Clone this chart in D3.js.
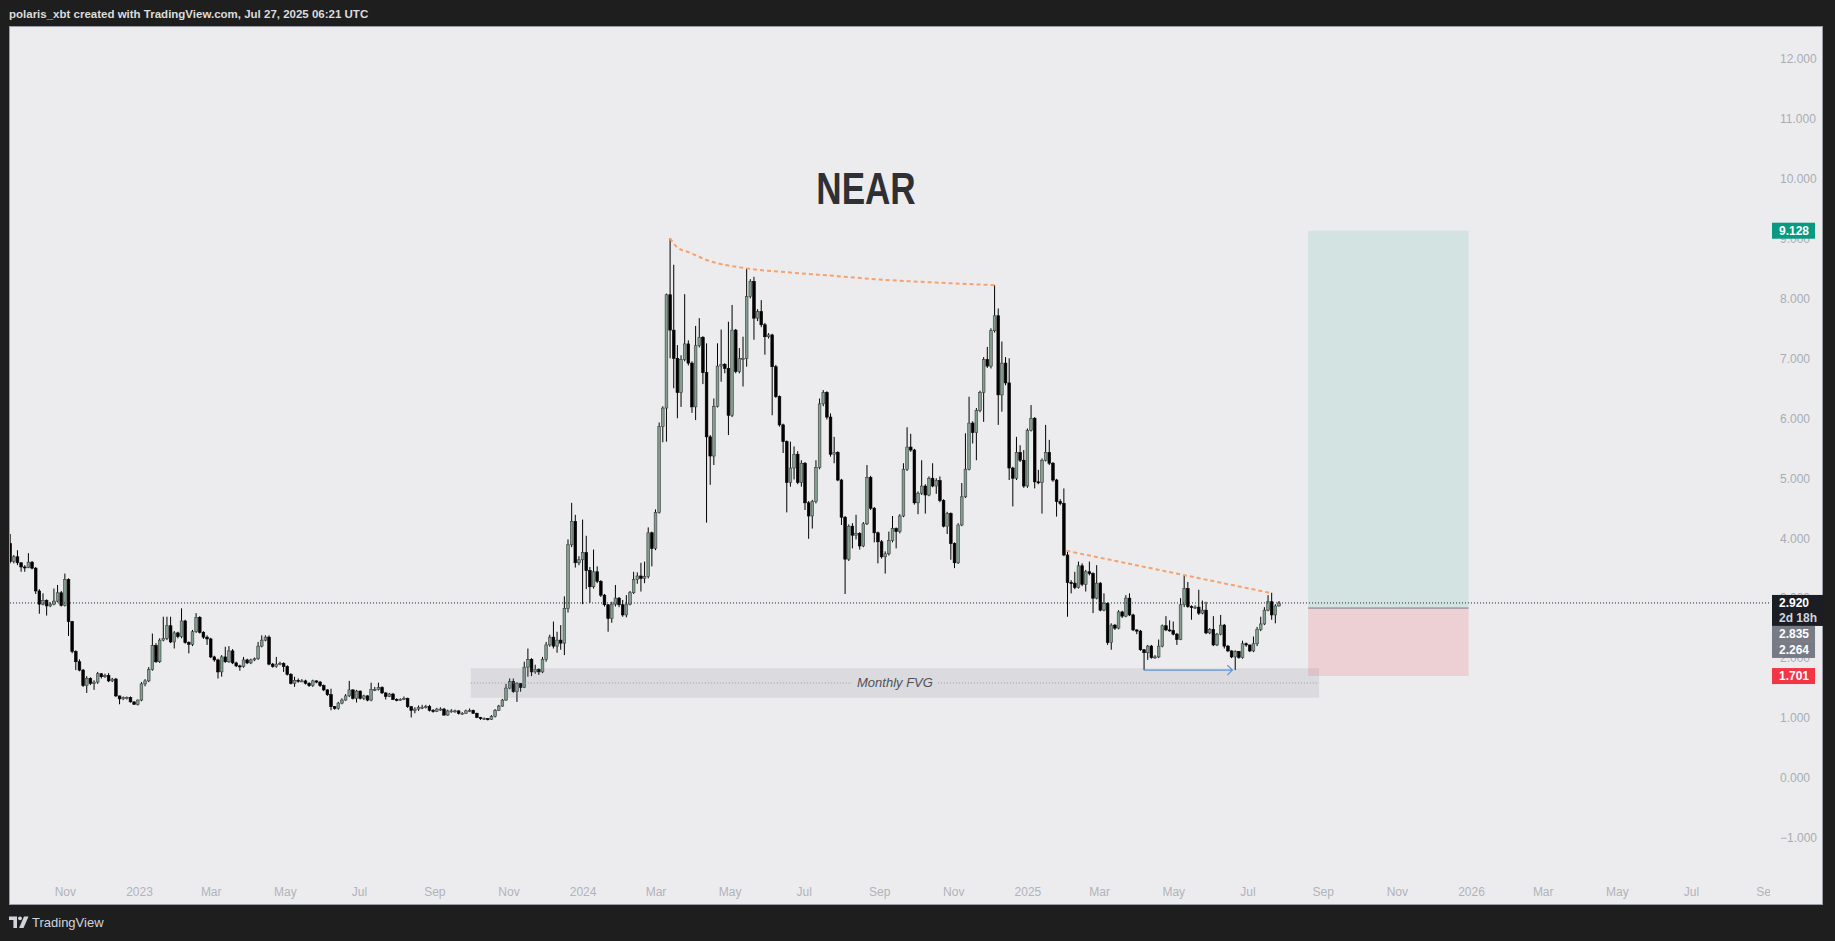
<!DOCTYPE html>
<html>
<head>
<meta charset="UTF-8">
<style>
  html, body { margin: 0; padding: 0; background: #1e1e1e; overflow: hidden; }
  svg { display: block; }
</style>
</head>
<body>
<svg></svg>
<script src="https://d3js.org/d3.v7.min.js"></script>
<script>

let width = 1835, height = 941;

// NEAR 3D candles, last one opens Jul 27 2025 (open = previous close)
let lastCandle = "2025-07-27";
let firstOpen = 3.91;

let closes = [
  3.61,3.69,3.59,3.52,3.51,3.60,3.50,3.12,2.90,2.96,
  2.87,2.90,2.95,3.09,2.88,3.31,2.61,2.11,1.94,1.80,
  1.54,1.66,1.58,1.60,1.74,1.69,1.71,1.62,1.65,1.37,
  1.32,1.34,1.34,1.27,1.23,1.30,1.57,1.62,1.81,2.21,
  1.94,2.30,2.33,2.54,2.27,2.42,2.36,2.62,2.26,2.23,
  2.44,2.68,2.43,2.35,2.32,2.02,1.97,1.77,2.02,1.94,
  2.12,1.92,1.87,1.86,1.97,1.92,1.97,1.99,2.20,2.30,
  2.35,1.90,1.86,1.90,1.91,1.86,1.73,1.58,1.63,1.62,
  1.62,1.58,1.54,1.62,1.60,1.54,1.47,1.39,1.19,1.16,
  1.25,1.30,1.37,1.47,1.33,1.45,1.33,1.37,1.30,1.48,
  1.48,1.51,1.42,1.36,1.40,1.31,1.30,1.31,1.33,1.19,
  1.13,1.15,1.18,1.18,1.19,1.13,1.11,1.15,1.15,1.05,
  1.12,1.12,1.12,1.08,1.08,1.12,1.13,1.08,1.01,0.99,
  0.99,0.98,1.03,1.13,1.20,1.30,1.50,1.61,1.44,1.58,
  1.51,1.85,1.98,1.77,1.81,1.77,1.98,2.22,2.35,2.20,
  2.30,2.25,2.83,3.89,4.28,3.59,3.64,3.76,3.46,3.19,
  3.44,3.28,3.05,2.89,2.66,2.90,3.00,2.89,2.72,2.90,
  3.09,3.31,3.37,3.33,3.36,4.09,3.83,4.43,5.86,6.17,
  8.06,7.47,7.00,6.43,6.98,7.24,6.92,6.19,7.21,7.35,
  6.76,5.69,5.37,6.20,6.87,6.90,6.83,6.05,7.47,6.78,
  7.00,7.00,8.03,8.28,7.67,7.78,7.56,7.36,7.39,6.86,
  6.36,5.89,5.61,4.93,5.17,5.40,4.93,5.25,4.59,4.37,
  4.61,5.18,6.24,6.43,6.02,5.40,5.43,4.97,4.35,3.65,
  4.20,4.05,4.08,3.87,4.24,5.01,4.50,4.09,3.94,3.69,
  3.74,3.96,4.16,4.11,4.37,5.15,5.52,5.47,4.59,4.75,
  4.87,4.72,5.00,4.87,4.96,4.63,4.20,4.41,3.91,3.59,
  4.22,4.69,5.15,5.92,5.76,6.13,6.43,6.98,6.87,7.46,
  7.71,6.39,6.92,6.59,5.17,5.00,5.43,5.30,4.87,5.80,
  6.00,4.94,4.93,5.30,5.43,5.25,4.97,4.61,4.58,3.72,
  3.26,3.25,3.18,3.54,3.23,3.44,3.41,3.00,3.25,2.80,
  2.91,2.26,2.55,2.50,2.77,2.70,3.00,2.72,2.47,2.45,
  2.14,2.09,2.20,2.01,2.02,2.20,2.54,2.47,2.46,2.40,
  2.31,2.89,3.16,2.86,2.85,2.85,2.75,2.80,2.42,2.48,
  2.22,2.40,2.55,2.20,2.12,2.02,2.11,2.01,2.24,2.22,
  2.12,2.24,2.48,2.57,2.80,2.94,2.72,2.87,2.92
];

let highs = [
  4.07,3.72,3.80,3.60,3.55,3.75,3.62,3.52,3.15,3.08,
  2.98,2.93,3.16,3.22,3.12,3.41,3.33,2.62,2.13,1.98,
  1.82,1.70,1.68,1.63,1.77,1.75,1.74,1.75,1.67,1.67,
  1.37,1.36,1.36,1.36,1.28,1.31,1.60,1.65,1.85,2.41,
  2.25,2.33,2.69,2.69,2.69,2.45,2.44,2.83,2.64,2.28,
  2.47,2.75,2.70,2.45,2.38,2.34,2.04,1.99,2.05,2.19,
  2.20,2.15,1.94,1.89,2.02,1.99,1.99,2.01,2.27,2.38,
  2.38,2.38,1.92,2.02,1.94,1.93,1.88,1.75,1.69,1.66,
  1.65,1.64,1.60,1.64,1.63,1.62,1.56,1.48,1.49,1.20,
  1.27,1.33,1.40,1.62,1.48,1.47,1.46,1.39,1.38,1.59,
  1.52,1.59,1.53,1.43,1.42,1.42,1.33,1.33,1.36,1.34,
  1.20,1.18,1.21,1.22,1.22,1.22,1.15,1.17,1.18,1.17,
  1.14,1.15,1.14,1.13,1.10,1.14,1.16,1.14,1.09,1.02,
  1.01,1.00,1.05,1.15,1.22,1.32,1.57,1.66,1.66,1.60,
  1.58,1.94,2.16,2.00,1.89,1.83,2.02,2.27,2.39,2.61,
  2.44,2.55,3.03,3.98,4.59,4.39,3.70,4.31,4.04,3.52,
  3.81,3.53,3.30,3.07,2.90,2.94,3.22,3.02,2.97,3.05,
  3.12,3.44,3.43,3.59,3.61,4.18,4.11,4.48,5.93,6.20,
  8.08,9.00,8.56,7.22,7.05,8.07,7.30,6.95,7.54,7.67,
  7.37,7.25,5.72,6.33,7.25,7.48,6.92,7.61,7.89,7.49,
  7.17,7.36,8.50,8.32,8.36,7.82,7.97,7.59,7.42,7.41,
  6.89,6.38,5.91,5.63,5.61,5.53,5.45,5.30,5.27,4.62,
  4.64,5.30,6.33,6.47,6.45,6.08,5.69,5.45,4.99,4.37,
  4.23,4.25,4.39,4.10,4.27,5.22,5.04,4.52,4.11,3.97,
  3.78,4.11,4.37,4.18,4.40,5.25,5.85,5.74,5.49,4.78,
  5.30,4.90,5.03,5.25,5.00,5.03,4.65,4.44,4.43,3.93,
  4.25,4.92,5.75,6.36,5.95,6.17,6.46,7.02,7.19,7.50,
  8.22,7.83,7.28,7.02,7.00,5.19,5.69,5.55,5.47,5.83,
  6.22,6.02,5.14,5.33,5.89,5.64,5.27,4.99,4.65,4.83,
  3.80,3.30,3.44,3.61,3.58,3.47,3.61,3.43,3.55,3.27,
  3.08,2.93,2.58,2.57,2.80,2.79,3.05,3.08,2.74,2.48,
  2.47,2.15,2.22,2.22,2.05,2.31,2.56,2.70,2.63,2.61,
  2.42,3.00,3.39,3.27,2.88,2.88,3.14,2.96,2.94,2.50,
  2.70,2.42,2.72,2.57,2.22,2.13,2.13,2.12,2.29,2.26,
  2.22,2.36,2.52,2.69,2.85,3.05,3.09,2.90,2.95
];

let lows = [
  3.58,3.58,3.55,3.44,3.44,3.50,3.48,3.07,2.74,2.88,
  2.71,2.85,2.88,2.93,2.86,2.86,2.37,2.08,1.80,1.78,
  1.52,1.42,1.55,1.47,1.57,1.66,1.67,1.60,1.60,1.35,
  1.23,1.30,1.31,1.26,1.22,1.21,1.28,1.53,1.60,1.79,
  1.92,1.92,2.28,2.30,2.25,2.16,2.33,2.33,2.24,2.08,
  2.20,2.42,2.41,2.32,2.22,2.00,1.94,1.66,1.69,1.92,
  1.92,1.90,1.85,1.79,1.84,1.90,1.90,1.95,1.97,2.18,
  2.28,1.88,1.84,1.84,1.88,1.77,1.71,1.56,1.52,1.59,
  1.60,1.56,1.52,1.52,1.58,1.52,1.45,1.37,1.13,1.14,
  1.14,1.23,1.29,1.35,1.31,1.26,1.31,1.30,1.28,1.28,
  1.45,1.46,1.40,1.31,1.35,1.30,1.28,1.29,1.30,1.17,
  1.01,1.08,1.12,1.15,1.16,1.11,1.09,1.10,1.12,1.04,
  1.04,1.09,1.09,1.06,1.06,1.07,1.10,1.07,1.00,0.97,
  0.97,0.96,0.97,1.01,1.12,1.19,1.29,1.48,1.42,1.27,
  1.44,1.50,1.69,1.70,1.74,1.72,1.75,1.94,2.19,2.16,
  2.09,2.14,2.05,2.76,3.85,3.51,3.55,2.90,3.15,2.92,
  3.16,3.25,3.02,2.86,2.44,2.59,2.86,2.85,2.69,2.68,
  2.88,3.07,3.24,3.11,3.25,3.33,3.53,3.80,4.41,5.60,
  5.61,7.00,6.50,6.00,6.19,6.95,6.88,6.09,5.97,7.18,
  6.57,4.26,4.89,5.22,6.18,6.61,6.75,5.72,6.02,6.75,
  6.75,6.53,6.86,8.00,7.31,7.62,7.52,7.06,7.33,6.05,
  6.34,5.86,5.42,4.43,4.86,4.98,4.90,4.86,4.47,3.99,
  4.16,4.58,5.15,6.20,5.98,5.36,5.25,4.95,4.22,3.07,
  3.62,3.83,3.98,3.81,3.85,4.22,4.47,3.93,3.58,3.66,
  3.41,3.71,3.93,3.83,4.08,4.35,5.12,5.44,4.56,4.40,
  4.72,4.41,4.70,4.85,4.74,4.60,4.18,4.07,3.64,3.50,
  3.57,4.20,4.67,5.13,5.58,5.30,6.10,5.94,6.84,6.83,
  7.43,5.89,6.11,6.55,4.97,4.53,4.97,5.27,4.84,4.84,
  5.78,4.83,4.90,4.41,5.28,5.22,4.94,4.36,4.55,3.70,
  2.69,3.08,3.15,3.16,3.20,3.11,3.38,2.75,2.98,2.78,
  2.78,2.22,2.14,2.47,2.48,2.67,2.68,2.70,2.45,2.40,
  2.12,1.80,1.97,1.99,1.99,2.00,2.18,2.45,2.44,2.38,
  2.22,2.30,2.85,2.84,2.64,2.82,2.72,2.73,2.40,2.40,
  2.20,2.20,2.38,2.16,2.10,2.00,1.80,1.99,1.99,2.19,
  2.10,2.10,2.20,2.45,2.55,2.78,2.64,2.58,2.86
];

let priceTicks = [12, 11, 10, 9, 8, 7, 6, 5, 4, 3, 2, 1, 0, -1];

let timeTickDates = ["2022-11-01","2023-01-01","2023-03-01","2023-05-01","2023-07-01","2023-09-01",
  "2023-11-01","2024-01-01","2024-03-01","2024-05-01","2024-07-01","2024-09-01",
  "2024-11-01","2025-01-01","2025-03-01","2025-05-01","2025-07-01","2025-09-01",
  "2025-11-01","2026-01-01","2026-03-01","2026-05-01","2026-07-01","2026-09-01"];
let timeTickLabels = ["Nov","2023","Mar","May","Jul","Sep","Nov","2024","Mar","May","Jul","Sep",
  "Nov","2025","Mar","May","Jul","Sep","Nov","2026","Mar","May","Jul","Sep"];

// drawings, in candle index / price
let arcIdx   = [181, 182.8, 186.5, 191, 202, 214, 227, 237, 255, 270];
let arcPrice = [9.00, 8.86, 8.76, 8.64, 8.50, 8.43, 8.37, 8.32, 8.26, 8.22];
let lowerIdx   = [289.7, 345.4];
let lowerPrice = [3.79, 3.09];
let arrowIdx   = [311, 335.2];
let arrowPrice = 1.80;

let fvgDates  = ["2023-10-01", "2025-08-29"];
let fvgPrices = [1.83, 1.34];

let positionDates = ["2025-08-20", "2025-12-30"];
let targetPrice = 9.128, entryPrice = 2.835, stopPrice = 1.701;
let lastPrice = 2.920;

let labelPrices = [9.128, 2.920, 2.835, 2.264, 1.701];
let labelFills  = ["#089981", "#1a1d24", "#787b86", "#787b86", "#f23645"];
let labelSub    = ["", "2d 18h", "", "", ""];

let svg = d3.select("svg")
  .attr("width", width).attr("height", height)
  .attr("viewBox", "0 0 " + width + " " + height)
  .style("font-family", "'Liberation Sans', Arial, sans-serif");

let x = d3.scaleUtc()
  .domain([new Date("2023-01-01"), new Date("2026-01-01")])
  .range([139, 1471]);
let y = d3.scaleLinear().domain([12, -1]).range([58.5, 838]);

let dayMs = 86400000;
let lastTime = Date.parse(lastCandle);
let n = closes.length;
let idxTime = i => new Date(lastTime - (n - 1 - i) * 3 * dayMs);

let candles = closes.map((c, i) => ({
  t: idxTime(i), o: i ? closes[i - 1] : firstOpen, h: highs[i], l: lows[i], c: c
}));

// frame
svg.append("rect").attr("width", width).attr("height", height).attr("fill", "#1e1e1e");
svg.append("rect")
  .attr("x", 9.5).attr("y", 26.5).attr("width", 1813).attr("height", 878)
  .attr("fill", "#ececee").attr("stroke", "#9b9ea6");

let defs = svg.append("defs");
defs.append("clipPath").attr("id", "plot")
  .append("rect").attr("x", 10).attr("y", 27).attr("width", 1760).attr("height", 850);

let plot = svg.append("g").attr("clip-path", "url(#plot)");

// position tool
let px0 = x(new Date(positionDates[0])), px1 = x(new Date(positionDates[1]));
plot.append("rect")
  .attr("x", px0).attr("y", y(targetPrice))
  .attr("width", px1 - px0).attr("height", y(entryPrice) - y(targetPrice))
  .attr("fill", "rgba(8,153,129,0.11)");
plot.append("rect")
  .attr("x", px0).attr("y", y(entryPrice))
  .attr("width", px1 - px0).attr("height", y(stopPrice) - y(entryPrice))
  .attr("fill", "rgba(242,54,69,0.15)");
plot.append("line")
  .attr("x1", px0).attr("x2", px1)
  .attr("y1", y(entryPrice)).attr("y2", y(entryPrice))
  .attr("stroke", "#787b86").attr("stroke-width", 1);

// candles
let bw = (x(new Date(3 * dayMs)) - x(new Date(0))) * 0.74;

let candleG = plot.append("g").attr("id", "candles");
candleG.selectAll("line")
  .data(candles)
  .enter()
  .append("line")
  .attr("x1", d => x(d.t)).attr("x2", d => x(d.t))
  .attr("y1", d => y(Math.max(d.h, d.o, d.c)))
  .attr("y2", d => y(Math.min(d.l, d.o, d.c)))
  .attr("stroke", "#000").attr("stroke-width", 1);

candleG.selectAll("rect")
  .data(candles)
  .enter()
  .append("rect")
  .attr("x", d => x(d.t) - bw / 2)
  .attr("width", bw)
  .attr("y", d => y(Math.max(d.o, d.c)))
  .attr("height", d => Math.max(1, Math.abs(y(d.o) - y(d.c))))
  .attr("fill", d => d.c >= d.o ? "#819e8f" : "#000")
  .attr("stroke", d => d.c >= d.o ? "#3c3f3d" : "#000")
  .attr("stroke-width", 0.6);

// monthly FVG
let fx0 = x(new Date(fvgDates[0])), fx1 = x(new Date(fvgDates[1]));
plot.append("rect")
  .attr("x", fx0).attr("y", y(fvgPrices[0]))
  .attr("width", fx1 - fx0).attr("height", y(fvgPrices[1]) - y(fvgPrices[0]))
  .attr("fill", "rgba(120,123,134,0.14)");

let fvgMid = y((fvgPrices[0] + fvgPrices[1]) / 2);
let fvgText = plot.append("text")
  .attr("x", (fx0 + fx1) / 2).attr("y", fvgMid)
  .attr("text-anchor", "middle").attr("dominant-baseline", "central")
  .attr("font-size", 13).attr("font-style", "italic")
  .attr("fill", "#4f5157")
  .text("Monthly FVG");
let tw = fvgText.node().getComputedTextLength();
[[fx0, (fx0 + fx1) / 2 - tw / 2 - 5], [(fx0 + fx1) / 2 + tw / 2 + 5, fx1]].forEach(s => {
  plot.append("line")
    .attr("x1", s[0]).attr("x2", s[1]).attr("y1", fvgMid).attr("y2", fvgMid)
    .attr("stroke", "#9a9ca3").attr("stroke-width", 1).attr("stroke-dasharray", "1,2");
});

// last price line
plot.append("line")
  .attr("x1", 10).attr("x2", 1772)
  .attr("y1", y(lastPrice)).attr("y2", y(lastPrice))
  .attr("stroke", "#1e222d").attr("stroke-width", 1).attr("stroke-dasharray", "1,2");

// orange trend lines
let trend = d3.line()
  .x(d => x(idxTime(d[0])))
  .y(d => y(d[1]))
  .curve(d3.curveMonotoneX);

plot.append("path")
  .attr("d", trend(arcIdx.map((d, i) => [d, arcPrice[i]])))
  .attr("fill", "none").attr("stroke", "#f5a26f").attr("stroke-width", 2)
  .attr("stroke-dasharray", "4,3");

plot.append("path")
  .attr("d", trend(lowerIdx.map((d, i) => [d, lowerPrice[i]])))
  .attr("fill", "none").attr("stroke", "#f5a26f").attr("stroke-width", 2)
  .attr("stroke-dasharray", "4,3");

// blue arrow
let ax0 = x(idxTime(arrowIdx[0])), ax1 = x(idxTime(arrowIdx[1])), ay = y(arrowPrice);
plot.append("path")
  .attr("d", "M" + ax0 + "," + ay + "H" + ax1 + "M" + (ax1 - 5) + "," + (ay - 5) + "L" + ax1 + "," + ay + "L" + (ax1 - 5) + "," + (ay + 5))
  .attr("fill", "none").attr("stroke", "#5f93d3").attr("stroke-width", 1.3);

// title
svg.append("text")
  .attr("transform", "translate(866,188) scale(0.78,1)")
  .attr("text-anchor", "middle").attr("dominant-baseline", "central")
  .attr("font-size", 45).attr("font-weight", "bold")
  .attr("fill", "#2f3034")
  .text("NEAR");

// price axis
svg.append("g")
  .attr("transform", "translate(1780,0)")
  .call(d3.axisRight(y).tickValues(priceTicks).tickFormat(d3.format(".3f")).tickSize(0).tickPadding(0))
  .call(g => g.select(".domain").remove())
  .attr("font-family", null).attr("font-size", 12)
  .selectAll("text").attr("fill", "#a9acb4");

// time axis
defs.append("clipPath").attr("id", "timeclip")
  .append("rect").attr("x", 10).attr("y", 870).attr("width", 1760).attr("height", 34);
svg.append("g")
  .attr("clip-path", "url(#timeclip)")
  .append("g")
  .attr("transform", "translate(0,884)")
  .call(d3.axisBottom(x).tickValues(timeTickDates.map(d => new Date(d)))
    .tickFormat((d, i) => timeTickLabels[i]).tickSize(0).tickPadding(3))
  .call(g => g.select(".domain").remove())
  .attr("font-family", null).attr("font-size", 12)
  .selectAll("text").attr("fill", "#b0b3ba");

// price scale labels, pushed down when they overlap
let prevBottom = -Infinity;
labelPrices.forEach((p, i) => {
  let h = labelSub[i] ? 31 : 16;
  let top = Math.max(y(p) - 8, prevBottom);
  prevBottom = top + h;
  let g = svg.append("g");
  let box = g.append("rect").attr("x", 1772).attr("y", top).attr("height", h).attr("fill", labelFills[i]);
  let t1 = g.append("text")
    .attr("x", 1779).attr("y", top + 8).attr("dominant-baseline", "central")
    .attr("font-size", 12).attr("font-weight", "bold").attr("fill", "#fff")
    .text(d3.format(".3f")(p));
  let w = t1.node().getComputedTextLength();
  if (labelSub[i]) {
    let t2 = g.append("text")
      .attr("x", 1779).attr("y", top + 23).attr("dominant-baseline", "central")
      .attr("font-size", 12).attr("font-weight", "bold").attr("fill", "#d1d4dc")
      .text(labelSub[i]);
    w = Math.max(w, t2.node().getComputedTextLength());
  }
  box.attr("width", w + 13);
});

// header and footer
svg.append("text")
  .attr("x", 9).attr("y", 18)
  .attr("font-size", 11.5).attr("font-weight", "bold").attr("fill", "#dcdcdc")
  .text("polaris_xbt created with TradingView.com, Jul 27, 2025 06:21 UTC");

let logo = svg.append("g").attr("fill", "#d1d4dc");
logo.append("path").attr("d", "M9,916.5h8v11.5h-3.6v-8H9z");
logo.append("circle").attr("cx", 20).attr("cy", 918.3).attr("r", 1.9);
logo.append("path").attr("d", "M24,916.5h4.5l-5,11.5h-4.4z");
svg.append("text")
  .attr("x", 32).attr("y", 922).attr("dominant-baseline", "central")
  .attr("font-size", 13).attr("fill", "#d1d4dc")
  .text("TradingView");

</script>
</body>
</html>
